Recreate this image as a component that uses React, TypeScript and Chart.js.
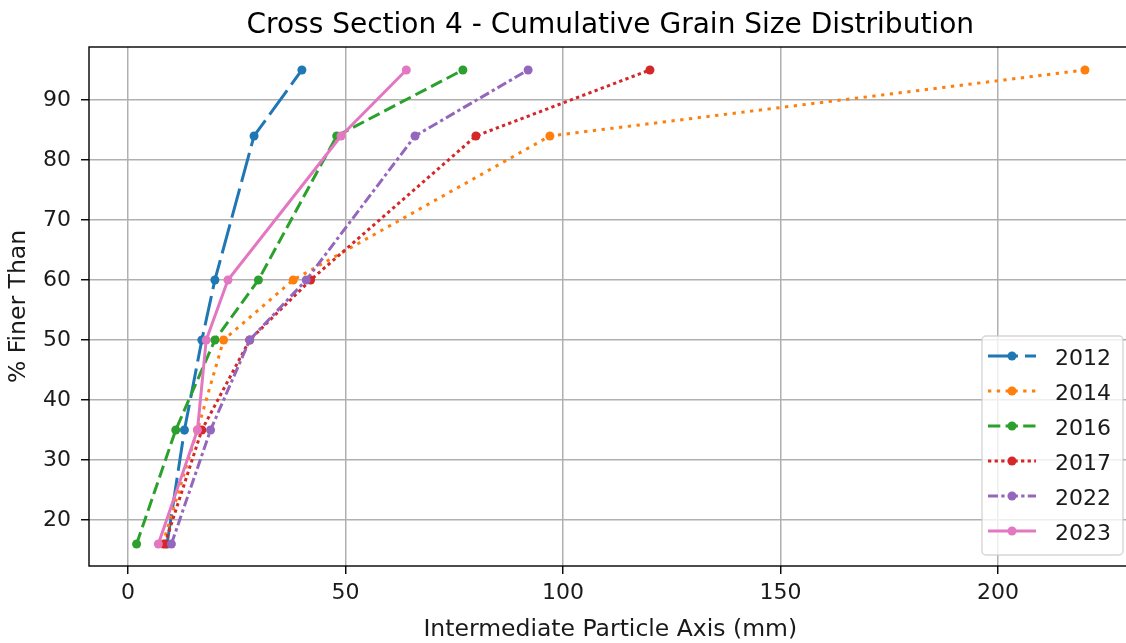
import React, { useEffect, useRef } from "react";
import { Chart, registerables } from "chart.js";

Chart.register(...registerables);

// ---- data ----
const percentFiner = [16, 35, 50, 60, 84, 95];
const years = ["2012", "2014", "2016", "2017", "2022", "2023"];
const size2012 = [9, 13, 17, 20, 29, 40];
const size2014 = [8, 16, 22, 38, 97, 220];
const size2016 = [2, 11, 20, 30, 48, 77];
const size2017 = [8.5, 17, 28, 42, 80, 120];
const size2022 = [10, 19, 28, 41, 66, 92];
const size2023 = [7, 16, 18, 23, 49, 64];
const xTicks = [0, 50, 100, 150, 200];
const yTicks = [20, 30, 40, 50, 60, 70, 80, 90];

const titleText = "Cross Section 4 - Cumulative Grain Size Distribution";
const xLabel = "Intermediate Particle Axis (mm)";
const yLabel = "% Finer Than";

// ---- styles ----
const seriesSizes = [size2012, size2014, size2016, size2017, size2022, size2023];
const colors = ["#1f77b4", "#ff7f0e", "#2ca02c", "#d62728", "#9467bd", "#e377c2"];
const dashes: number[][] = [
  [30, 7],
  [3.3, 5.5],
  [12.3, 5.3],
  [3.3, 3.3],
  [10, 3.3, 3.3, 3.3],
  [],
];
const FONT = "'DejaVu Sans', sans-serif";
const LW = 3;
const PR = 4.5;

const decorPlugin = {
  id: "decor",
  afterDatasetsDraw(chart: any) {
    const { ctx, chartArea } = chart;
    const { left, right, top, bottom } = chartArea;
    ctx.save();
    // spines
    ctx.strokeStyle = "#000";
    ctx.lineWidth = 1.4;
    ctx.setLineDash([]);
    ctx.strokeRect(left, top, right - left, bottom - top);

    // legend box
    const bx = 982, by = 336, bw = 141, bh = 219, r = 4;
    ctx.beginPath();
    ctx.moveTo(bx + r, by);
    ctx.lineTo(bx + bw - r, by);
    ctx.arcTo(bx + bw, by, bx + bw, by + r, r);
    ctx.lineTo(bx + bw, by + bh - r);
    ctx.arcTo(bx + bw, by + bh, bx + bw - r, by + bh, r);
    ctx.lineTo(bx + r, by + bh);
    ctx.arcTo(bx, by + bh, bx, by + bh - r, r);
    ctx.lineTo(bx, by + r);
    ctx.arcTo(bx, by, bx + r, by, r);
    ctx.closePath();
    ctx.fillStyle = "rgba(255,255,255,0.8)";
    ctx.fill();
    ctx.strokeStyle = "rgba(204,204,204,0.8)";
    ctx.lineWidth = 1.4;
    ctx.stroke();

    for (let i = 0; i < years.length; i++) {
      const cy = 356 + i * 35;
      ctx.beginPath();
      ctx.setLineDash(dashes[i]);
      ctx.strokeStyle = colors[i];
      ctx.lineWidth = LW;
      ctx.moveTo(988, cy);
      ctx.lineTo(1036, cy);
      ctx.stroke();
      ctx.setLineDash([]);
      ctx.beginPath();
      ctx.fillStyle = colors[i];
      ctx.arc(1012, cy, PR, 0, Math.PI * 2);
      ctx.fill();
      ctx.fillStyle = "#1a1a1a";
      ctx.font = `22px ${FONT}`;
      ctx.textAlign = "left";
      ctx.textBaseline = "alphabetic";
      ctx.fillText(years[i], 1055, cy + 8.5);
    }

    // titles
    const cx = (left + right) / 2;
    ctx.fillStyle = "#000";
    ctx.textAlign = "center";
    ctx.textBaseline = "alphabetic";
    ctx.font = `28px ${FONT}`;
    ctx.fillText(titleText, cx, 33);
    ctx.fillStyle = "#1a1a1a";
    ctx.font = `23.5px ${FONT}`;
    ctx.fillText(xLabel, cx, 636);
    ctx.save();
    ctx.translate(25, (top + bottom) / 2);
    ctx.rotate(-Math.PI / 2);
    ctx.fillText(yLabel, 0, 0);
    ctx.restore();
    ctx.restore();
  },
};

export default function App() {
  const ref = useRef<HTMLCanvasElement | null>(null);

  useEffect(() => {
    document.body.style.margin = "0";
    const canvas = ref.current;
    if (!canvas) return;
    const datasets = years.map((yr, i) => ({
      label: yr,
      data: seriesSizes[i].map((x, j) => ({ x, y: percentFiner[j] })),
      showLine: true,
      borderColor: colors[i],
      backgroundColor: colors[i],
      borderWidth: LW,
      borderDash: dashes[i],
      borderCapStyle: "butt" as const,
      pointRadius: PR,
      pointBorderWidth: 0,
      pointBackgroundColor: colors[i],
      tension: 0,
      order: years.length - 1 - i,
    }));

    const chart = new Chart(canvas, {
      type: "scatter",
      data: { datasets },
      plugins: [decorPlugin],
      options: {
        responsive: false,
        devicePixelRatio: 1,
        animation: false,
        layout: { padding: { top: 47, right: 2, left: 0, bottom: 0 } },
        plugins: {
          legend: { display: false },
          tooltip: { enabled: false },
          title: { display: false },
        },
        scales: {
          x: {
            type: "linear",
            min: -8.94,
            max: 230.7,
            afterBuildTicks: (s: any) => {
              s.ticks = xTicks.map((v) => ({ value: v }));
            },
            afterFit: (s: any) => {
              s.height = 77;
            },
            grid: {
              color: "#b0b0b0",
              lineWidth: 1.5,
              tickColor: "#000",
              tickWidth: 1.4,
              tickLength: 8,
            },
            border: { display: false },
            ticks: {
              color: "#1a1a1a",
              font: { family: FONT, size: 22 },
              padding: 6,
              maxRotation: 0,
              autoSkip: false,
            },
          },
          y: {
            type: "linear",
            min: 12.33,
            max: 98.83,
            afterBuildTicks: (s: any) => {
              s.ticks = yTicks.map((v) => ({ value: v }));
            },
            afterFit: (s: any) => {
              s.width = 89;
            },
            grid: {
              color: "#b0b0b0",
              lineWidth: 1.5,
              tickColor: "#000",
              tickWidth: 1.4,
              tickLength: 8,
            },
            border: { display: false },
            ticks: {
              color: "#1a1a1a",
              font: { family: FONT, size: 22 },
              padding: 10,
              autoSkip: false,
            },
          },
        },
      },
    });
    return () => chart.destroy();
  }, []);

  return (
    <div
      style={{
        position: "fixed",
        left: 0,
        top: 0,
        width: 1126,
        height: 643,
        overflow: "hidden",
        background: "#fff",
      }}
    >
      <canvas ref={ref} width={1136} height={643} style={{ width: 1136, height: 643, display: "block" }} />
    </div>
  );
}
